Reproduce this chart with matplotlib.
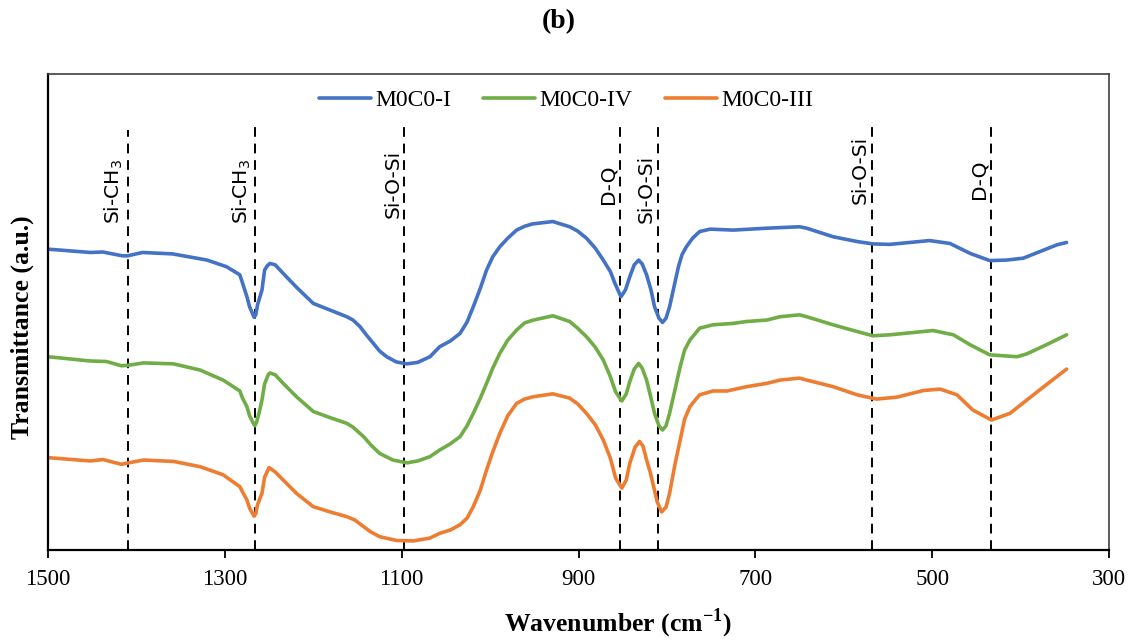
"""
FTIR spectra (b) of the M0C0 samples, with the main band assignments
marked as dashed vertical lines.
"""

import numpy as np
import matplotlib
matplotlib.use("Agg")
import matplotlib.pyplot as plt

plt.rcParams['font.family'] = 'Liberation Serif'
plt.rcParams['mathtext.fontset'] = 'custom'
plt.rcParams['mathtext.rm'] = 'Liberation Sans Narrow'
plt.rcParams['mathtext.bf'] = 'Liberation Serif:bold'

# Wavenumber (cm-1) and transmittance (a.u., spectra offset for clarity)
wn_I = [1500, 1452, 1438, 1416, 1410, 1393, 1359, 1320, 1298, 1283, 1280,
        1275, 1272, 1269, 1267, 1265, 1263, 1258, 1255, 1252, 1249, 1243,
        1234, 1219, 1200, 1181, 1162, 1155, 1147, 1140, 1132, 1125, 1117,
        1106, 1094, 1082, 1068, 1057, 1045, 1034, 1026, 1019, 1011, 1004,
        997, 989, 980, 970, 961, 952, 929, 910, 901, 891, 881, 872, 864,
        859, 852, 847, 842, 837, 832, 828, 823, 818, 814, 809, 805, 801,
        797, 792, 787, 783, 778, 771, 763, 751, 725, 687, 650, 642, 612,
        585, 567, 548, 503, 480, 457, 435, 416, 397, 378, 359, 348]
t_I = [63.2, 62.5, 62.6, 61.8, 61.8, 62.5, 62.2, 60.9, 59.5, 57.8, 56.1,
       53.2, 51.1, 49.8, 48.9, 49.4, 51.5, 54.6, 58.8, 59.7, 60.2, 59.9,
       58.1, 55.2, 51.8, 50.4, 49.0, 48.3, 46.9, 45.2, 43.4, 41.8, 40.6,
       39.5, 39.1, 39.4, 40.6, 42.7, 43.9, 45.5, 47.9, 51.1, 55.0, 58.8,
       61.6, 63.7, 65.5, 67.2, 68.0, 68.5, 69.0, 67.9, 67.0, 65.5, 63.4,
       60.9, 58.5, 56.1, 53.2, 54.6, 57.4, 59.9, 60.9, 60.1, 57.8, 54.6,
       51.1, 48.7, 47.8, 48.7, 51.1, 55.3, 59.5, 62.0, 63.7, 65.5, 66.9,
       67.4, 67.2, 67.6, 67.9, 67.6, 65.8, 64.8, 64.3, 64.2, 65.0, 64.4,
       62.3, 60.8, 60.9, 61.3, 62.7, 64.1, 64.6]

wn_IV = [1500, 1452, 1434, 1417, 1409, 1392, 1358, 1328, 1302, 1283, 1280,
         1275, 1272, 1268, 1266, 1264, 1261, 1258, 1255, 1251, 1249, 1243,
         1234, 1219, 1200, 1181, 1162, 1155, 1143, 1135, 1125, 1110, 1094,
         1082, 1068, 1057, 1045, 1034, 1026, 1019, 1011, 1004, 997, 989,
         980, 970, 961, 951, 929, 910, 901, 891, 881, 872, 864, 858, 851,
         846, 842, 837, 832, 828, 823, 818, 814, 809, 805, 801, 797, 791,
         785, 780, 774, 763, 748, 725, 710, 687, 672, 650, 642, 612, 585,
         567, 548, 499, 476, 457, 435, 404, 393, 371, 348]
t_IV = [40.6, 39.7, 39.6, 38.7, 38.8, 39.3, 39.1, 37.8, 35.7, 33.4, 31.9,
        30.1, 28.2, 26.7, 26.1, 26.9, 29.0, 31.5, 34.9, 36.8, 37.2, 36.8,
        35.0, 32.2, 29.1, 27.8, 26.6, 25.8, 23.8, 22.1, 20.3, 18.9, 18.3,
        18.7, 19.6, 21.0, 22.3, 23.8, 26.1, 28.7, 31.9, 35.0, 38.2, 41.3,
        44.1, 46.2, 47.7, 48.3, 49.2, 48.0, 46.6, 44.8, 42.6, 39.9, 36.4,
        33.2, 31.3, 32.8, 35.4, 38.0, 39.2, 38.2, 35.7, 31.9, 28.7, 26.1,
        25.2, 26.1, 28.7, 33.6, 38.5, 42.0, 44.1, 46.6, 47.3, 47.6, 48.0,
        48.3, 49.0, 49.4, 49.0, 47.3, 45.9, 45.0, 45.2, 46.1, 45.2, 43.1,
        41.0, 40.6, 41.2, 43.1, 45.2]

wn_III = [1500, 1452, 1438, 1417, 1409, 1392, 1358, 1328, 1302, 1283, 1280,
          1275, 1272, 1267, 1265, 1263, 1258, 1255, 1250, 1243, 1234, 1219,
          1200, 1181, 1162, 1153, 1143, 1135, 1125, 1106, 1087, 1068, 1057,
          1045, 1034, 1026, 1019, 1011, 1004, 997, 989, 980, 970, 961, 951,
          929, 910, 901, 891, 881, 872, 864, 858, 851, 846, 842, 836, 831,
          827, 823, 819, 815, 811, 806, 801, 797, 791, 785, 780, 774, 768,
          763, 748, 732, 710, 687, 672, 650, 642, 612, 585, 563, 540, 510,
          491, 472, 454, 433, 412, 393, 371, 348]
t_III = [19.4, 18.7, 19.0, 18.0, 18.3, 18.9, 18.6, 17.5, 15.8, 13.3, 12.2,
         10.5, 8.8, 7.1, 7.6, 9.5, 11.9, 15.3, 17.3, 16.4, 14.7, 11.9, 9.1,
         8.0, 7.0, 6.3, 4.9, 3.8, 2.8, 2.0, 1.9, 2.5, 3.5, 4.2, 5.3, 6.7,
         9.1, 12.6, 16.8, 20.6, 24.5, 28.2, 30.8, 31.7, 32.2, 32.8, 31.9,
         30.7, 28.7, 26.3, 23.1, 19.3, 15.1, 13.0, 14.7, 18.2, 21.6, 22.8,
         21.8, 18.9, 16.4, 13.3, 10.1, 8.0, 9.0, 11.9, 17.9, 23.1, 27.5,
         30.1, 31.5, 32.6, 33.4, 33.4, 34.3, 35.0, 35.7, 36.1, 35.7, 34.3,
         32.6, 31.7, 32.1, 33.5, 33.8, 32.6, 29.4, 27.3, 28.7, 31.5, 34.7,
         38.0]

series = ['M0C0-I', 'M0C0-IV', 'M0C0-III']
colors = ['#4472C4', '#70AD47', '#ED7D31']

# band assignments
band_wn = [1410, 1266, 1097, 853, 810, 568, 434]
band_labels = [r'Si-CH$_3$', r'Si-CH$_3$', 'Si-O-Si', 'D-Q', 'Si-O-Si',
               'Si-O-Si', 'D-Q']
band_top = [88.2, 89.7, 89.7, 88.9, 89.7, 89.9, 89.9]
label_base = [68.5, 68.5, 69.7, 72.7, 68.7, 72.7, 73.7]

fig = plt.figure(figsize=(11.37, 6.41), dpi=100)
ax = fig.add_axes([0.0422, 0.1420, 0.9332, 0.7426])

for wn, t, c, name in zip([wn_I, wn_IV, wn_III], [t_I, t_IV, t_III],
                          colors, series):
    ax.plot(wn, t, color=c, lw=2.6, label=name, solid_joinstyle='round',
            solid_capstyle='round')

for x, top, lab, base in zip(band_wn, band_top, band_labels, label_base):
    ax.plot([x, x], [0, top], color='black', lw=1.4, dashes=(5, 3.5),
            zorder=1)
    ax.annotate(lab, xy=(x, base), xytext=(-1.5, 0),
                textcoords='offset points', rotation=90, ha='right',
                va='bottom', fontsize=14.5, family='Liberation Sans Narrow')

ax.set_xlim(1500, 300)
ax.set_ylim(0, 100)
ax.set_xticks([1500, 1300, 1100, 900, 700, 500, 300])
ax.set_yticks([])
ax.tick_params(axis='x', direction='out', length=5.5, width=1.3,
               labelsize=16.5, pad=8)

for side in ['left', 'bottom']:
    ax.spines[side].set_linewidth(1.6)
    ax.spines[side].set_color('black')
for side in ['top', 'right']:
    ax.spines[side].set_linewidth(1.2)
    ax.spines[side].set_color('#404040')

fig.legend(loc='center', bbox_to_anchor=(566 / 1137, 1 - 100 / 641),
           ncol=3, frameon=False, fontsize=17, handlelength=2.2,
           handletextpad=0.2, columnspacing=1.35)

fig.text(559 / 1137, 1 - 22 / 641, '(b)', ha='center', va='center',
         fontsize=20, fontweight='bold')
fig.text(618 / 1137, 1 - 623 / 641, r'Wavenumber (cm$^{\mathbf{-1}}$)',
         ha='center', va='center', fontsize=18.5, fontweight='bold')
fig.text(22 / 1137, 1 - 327 / 641, 'Transmittance (a.u.)', ha='center',
         va='center', rotation=90, fontsize=18.5, fontweight='bold')

fig.savefig('out.png', dpi=100)
